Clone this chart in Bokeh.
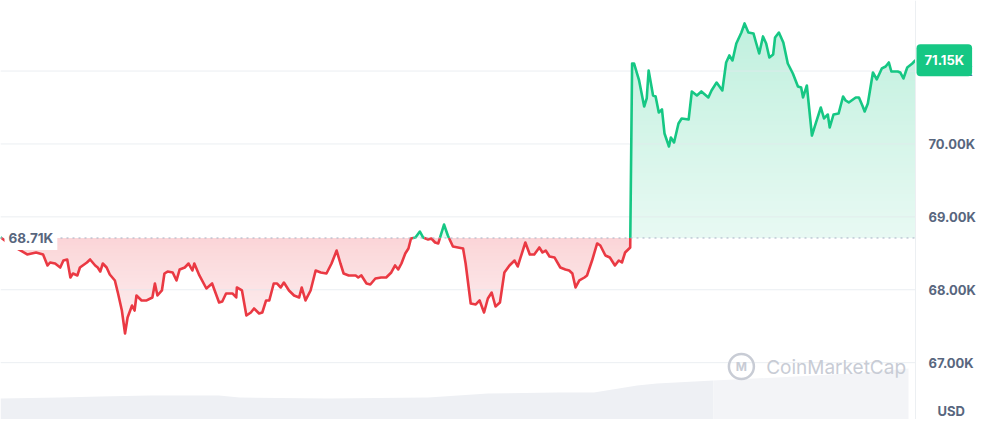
import numpy as np
from bokeh.plotting import figure
from bokeh.models import Range1d, Span, Label
from bokeh.core.properties import value
from bokeh.embed import file_html
from bokeh.resources import INLINE

# ---------------- data (minutes since start of the 24h window, USD) ----------------
times = [0, 13, 23, 34, 42, 56, 67, 74, 78, 86,
         94, 99, 105, 110, 114, 121, 125, 136, 141, 149,
         153, 157, 161, 167, 172, 180, 185, 191, 196, 200,
         207, 211, 214, 222, 230, 239, 243, 247, 254, 258,
         263, 271, 277, 282, 290, 296, 302, 305, 313, 324,
         333, 344, 349, 355, 365, 371, 372, 380, 387, 394,
         399, 407, 412, 418, 423, 430, 435, 441, 446, 454,
         462, 470, 474, 480, 488, 496, 504, 513, 521, 529,
         535, 540, 548, 559, 563, 568, 576, 582, 590, 599,
         607, 615, 621, 626, 631, 637, 642, 646, 653, 660,
         665, 673, 678, 684, 689, 698, 704, 712, 720, 728,
         732, 740, 748, 754, 761, 767, 773, 779, 786, 793,
         801, 809, 814, 818, 826, 833, 840, 848, 853, 858,
         864, 872, 881, 889, 895, 900, 905, 911, 919, 923,
         931, 939, 944, 952, 959, 967, 973, 978, 983, 991,
         994, 997, 1005, 1013, 1017, 1020, 1027, 1031, 1036, 1041,
         1045, 1052, 1055, 1060, 1067, 1072, 1083, 1088, 1096, 1103,
         1114, 1119, 1127, 1136, 1142, 1147, 1152, 1158, 1166, 1171,
         1177, 1185, 1189, 1194, 1200, 1205, 1210, 1216, 1219, 1225,
         1232, 1239, 1247, 1255, 1260, 1263, 1269, 1277, 1283, 1291,
         1296, 1302, 1305, 1311, 1319, 1326, 1330, 1335, 1346, 1351,
         1357, 1360, 1365, 1373, 1379, 1387, 1393, 1398, 1402, 1412,
         1416, 1421, 1427, 1435, 1440]

prices = [68720, 68635, 68580, 68525, 68484, 68511, 68484, 68333, 68374, 68360,
          68305, 68401, 68415, 68168, 68223, 68196, 68305, 68374, 68415, 68333,
          68305, 68250, 68360, 68305, 68209, 68127, 67949, 67715, 67400, 67619,
          67784, 67715, 67921, 67853, 67853, 67894, 68086, 67921, 67990, 68223,
          68250, 68237, 68127, 68278, 68305, 68360, 68264, 68360, 68196, 68017,
          68086, 67825, 67839, 67949, 67949, 67894, 68031, 67990, 67647, 67688,
          67743, 67674, 67688, 67853, 67853, 68086, 68086, 68031, 68099, 67990,
          67921, 67894, 68031, 67853, 67990, 68264, 68237, 68223, 68360, 68538,
          68360, 68223, 68196, 68196, 68168, 68196, 68086, 68072, 68154, 68168,
          68168, 68237, 68333, 68278, 68360, 68497, 68566, 68703, 68717, 68799,
          68717, 68689, 68703, 68648, 68635, 68895, 68744, 68593, 68580, 68566,
          68360, 67811, 67798, 67853, 67688, 67880, 67962, 67770, 67825, 68237,
          68333, 68401, 68319, 68429, 68648, 68484, 68484, 68580, 68511, 68538,
          68456, 68442, 68305, 68278, 68264, 68223, 68031, 68127, 68168, 68196,
          68401, 68635, 68607, 68470, 68442, 68333, 68401, 68374, 68511, 68580,
          71104, 71104, 70871, 70514, 70624, 71008, 70665, 70651, 70432, 70473,
          70144, 69965, 70089, 70020, 70281, 70350, 70336, 70720, 70665, 70720,
          70638, 70734, 70843, 70734, 71118, 71214, 71145, 71379, 71529, 71653,
          71529, 71516, 71392, 71241, 71475, 71379, 71186, 71228, 71461, 71529,
          71392, 71104, 70967, 70789, 70775, 70638, 70802, 70116, 70281, 70500,
          70350, 70404, 70226, 70404, 70418, 70651, 70596, 70569, 70638, 70638,
          70514, 70446, 70555, 70981, 70885, 71036, 71063, 71118, 70994, 70994,
          70981, 70898, 71049, 71104, 71150]

open_price = 68710
last_price = 71150

# volume (arbitrary units) - earlier part and latest part
vol_times = [0, 94, 157, 235, 344, 376, 516, 673, 767, 876, 934, 1002, 1033, 1122]
vol_values = [30, 31, 32, 33, 33, 31, 30, 31, 35, 36, 36, 43, 45, 48]
vol_recent_times = [1122, 1252, 1362, 1429]
vol_recent_values = [48, 52, 56, 60]

y_ticks = [67000, 68000, 69000, 70000, 71000]
y_tick_labels = [f"{t / 1000:.2f}K" for t in y_ticks]
currency = "USD"
brand = "CoinMarketCap"

# ---------------- style ----------------
GREEN = "#16c784"
RED = "#ea3943"
TXT = "#58667e"
GRID = "#eceff2"
WM = "#c8ccd5"
FONT = "Inter"
FS = "13px"

W, H = 977, 419
PLOT_W = 915          # pixels used by the price area; the rest holds the price scale
T_END = times[-1]


def mix(hex_color, a):
    h = hex_color.lstrip("#")
    r, g, b = int(h[0:2], 16), int(h[2:4], 16), int(h[4:6], 16)
    return "#%02x%02x%02x" % (round(255 - (255 - r) * a), round(255 - (255 - g) * a), round(255 - (255 - b) * a))


def add_crossings(xs, ys, levels):
    ox, oy = [xs[0]], [ys[0]]
    for i in range(len(xs) - 1):
        x0, y0, x1, y1 = xs[i], ys[i], xs[i + 1], ys[i + 1]
        if y1 != y0:
            lo, hi = min(y0, y1), max(y0, y1)
            cr = sorted([L for L in levels if lo < L < hi], reverse=(y1 < y0))
            for L in cr:
                t = (L - y0) / (y1 - y0)
                ox.append(x0 + t * (x1 - x0))
                oy.append(L)
        ox.append(x1)
        oy.append(y1)
    return np.array(ox, dtype=float), np.array(oy, dtype=float)


p = figure(width=W, height=H,
           x_range=Range1d(0, T_END * W / PLOT_W), y_range=Range1d(66220, 71968),
           output_backend="svg", toolbar_location=None,
           y_axis_location=None, x_axis_location=None,
           min_border_left=0, min_border_right=0, min_border_top=0, min_border_bottom=0,
           background_fill_color="white", border_fill_color="white")
p.outline_line_color = None
p.grid.visible = False

# volume
p.extra_y_ranges = {"vol": Range1d(9, 428)}
p.varea(x=vol_times, y1=0, y2=vol_values, y_range_name="vol", fill_color="#eef0f4")
p.varea(x=vol_recent_times, y1=0, y2=vol_recent_values, y_range_name="vol", fill_color="#f3f4f7")

# gradient fills
pmax, pmin = max(prices), min(prices)
green_levels = list(np.arange(open_price, pmax, 50.0))
red_levels = list(np.arange(open_price, pmin, -50.0))
xs, ys = add_crossings(times, prices, sorted(set(green_levels + red_levels)))

for L in green_levels:
    a = 0.10 + (0.27 - 0.10) * (L - open_price) / (pmax - open_price)
    p.varea(x=xs, y1=np.full_like(ys, L), y2=np.maximum(ys, L), fill_color=mix(GREEN, a))
for L in red_levels:
    a = 0.21 - (0.21 - 0.07) * (open_price - L) / (open_price - pmin)
    p.varea(x=xs, y1=np.minimum(ys, L), y2=np.full_like(ys, L), fill_color=mix(RED, a))

# horizontal grid lines (price area only)
p.segment(x0=[times[0]] * len(y_ticks), x1=[T_END] * len(y_ticks), y0=y_ticks, y1=y_ticks,
          line_color="#e3e7ec", line_alpha=0.7, line_width=1)

# line coloured above/below the opening price
lx, ly = add_crossings(times, prices, [open_price])
runs_x, runs_y, runs_c = [], [], []
cur_c = None
for i in range(len(lx) - 1):
    c = GREEN if (ly[i] + ly[i + 1]) / 2 >= open_price else RED
    if c != cur_c:
        runs_x.append([lx[i]])
        runs_y.append([ly[i]])
        runs_c.append(c)
        cur_c = c
    runs_x[-1].append(lx[i + 1])
    runs_y[-1].append(ly[i + 1])
p.multi_line(xs=runs_x, ys=runs_y, line_color=runs_c, line_width=2.6, line_join="round")

# opening price dotted reference
p.segment(x0=[times[0]], x1=[T_END], y0=[open_price], y1=[open_price],
          line_color="#a6b0c3", line_dash="2 4", line_width=1)
p.add_layout(Span(location=T_END, dimension="height", line_color=GRID, line_width=1))

# price scale (right)
p.text(x=[T_END] * len(y_ticks), y=y_ticks, text=y_tick_labels, x_offset=13,
       text_baseline="middle", text_align="left", text_color=TXT,
       text_font=value(FONT), text_font_style="bold", text_font_size=FS)

# labels
p.add_layout(Label(x=times[0], y=open_price, text=f"{open_price/1000:.2f}K", x_offset=4,
                   text_baseline="middle", text_color=TXT, text_font=FONT,
                   text_font_style="bold", text_font_size="13.5px",
                   background_fill_color="white", padding=4))
p.add_layout(Label(x=T_END, y=last_price, text=f"{last_price/1000:.2f}K", x_offset=1,
                   text_baseline="middle", text_color="white", text_font=FONT,
                   text_font_style="bold", text_font_size=FS,
                   background_fill_color=GREEN, padding=8, border_radius=4))
p.add_layout(Label(x=T_END, y=66343, text=currency, x_offset=22, text_baseline="middle",
                   text_color=TXT, text_font=FONT, text_font_style="bold", text_font_size=FS))

# watermark
p.scatter(x=[1166], y=[66947], marker="circle", size=25, fill_color=None,
          line_color=WM, line_width=2.5)
p.add_layout(Label(x=1166, y=66947, text="M", text_align="center", text_baseline="middle",
                   text_color=WM, text_font=FONT, text_font_size="12px", text_font_style="bold"))
p.add_layout(Label(x=1205, y=66933, text=brand, text_baseline="middle",
                   text_color=WM, text_font=FONT, text_font_size="19px"))

open("out.html", "w").write(file_html(p, INLINE))
